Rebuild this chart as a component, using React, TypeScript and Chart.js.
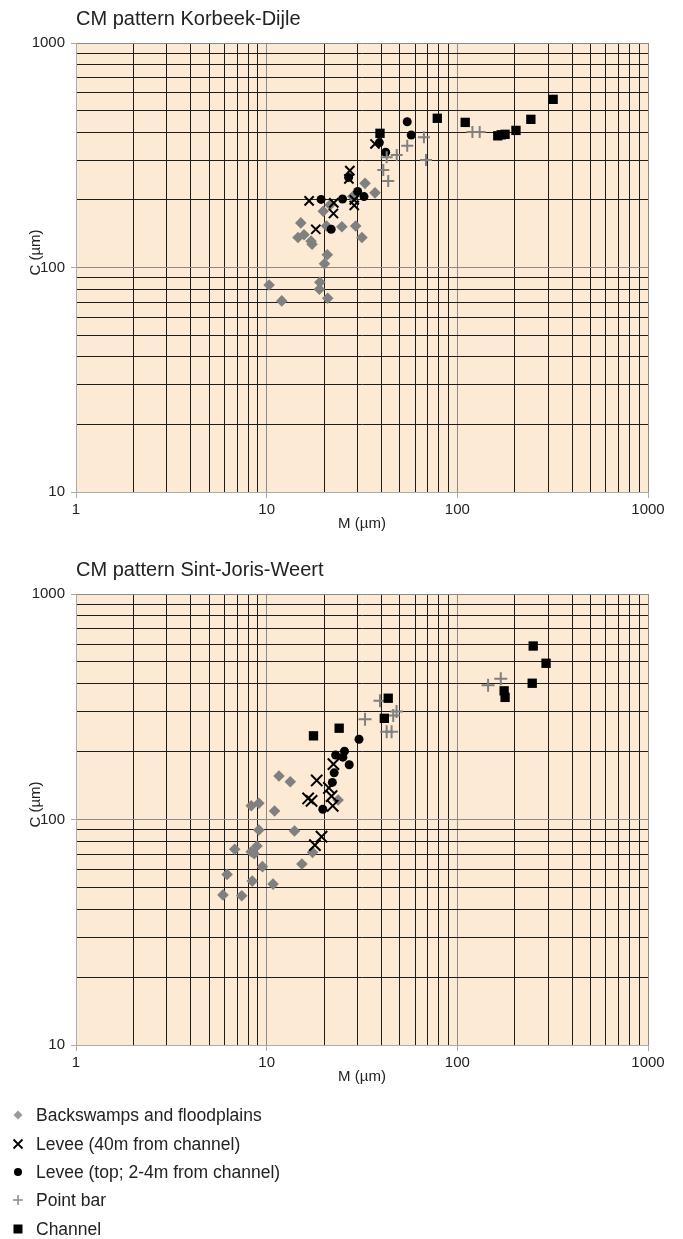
import React, { useEffect, useRef } from 'react';
import { Chart, registerables } from 'chart.js';

Chart.register(...registerables);

// ---- Data: [M (µm), C (µm)] pairs per facies ----

// Korbeek-Dijle
const korbeekBackswamps: [number, number][] = [
  [32.8, 237], [37.0, 215], [19.8, 178], [21.5, 190], [28.3, 207], [15.1, 158],
  [15.7, 140], [14.6, 136], [17.1, 131], [17.3, 127], [20.6, 153], [24.8, 152],
  [29.3, 153], [31.6, 136], [20.8, 114], [20.1, 104], [10.3, 83.6], [12.0, 71],
  [19.0, 86], [18.9, 80], [20.9, 73],
];
const korbeekLevee40m: [number, number][] = [
  [16.7, 198], [22.5, 194], [22.4, 174], [18.1, 148], [27.3, 270], [27.0, 248],
  [28.8, 200], [28.8, 189], [37.0, 355],
];
const korbeekLeveeTop: [number, number][] = [
  [19.3, 201], [25.0, 202], [21.8, 148], [26.9, 252], [30.0, 218], [32.4, 207],
  [39.0, 360], [42.1, 326], [54.6, 446], [57.3, 389],
];
const korbeekPointBar: [number, number][] = [
  [120, 401], [131, 401], [66.8, 380], [54.6, 349], [68.5, 301], [48.1, 317],
  [42.6, 310], [40.9, 272], [43.4, 243],
];
const korbeekChannel: [number, number][] = [
  [39.3, 396], [78.5, 462], [110, 443], [163, 386], [170, 390], [178, 392],
  [203, 408], [243, 457], [318, 561],
];

// Sint-Joris-Weert
const weertBackswamps: [number, number][] = [
  [11.6, 156], [13.3, 147], [8.3, 115], [9.1, 118], [11.0, 109], [23.7, 122],
  [9.1, 89.8], [14.0, 88.9], [6.8, 73.8], [8.9, 76.3], [8.3, 71.9], [8.6, 70.5],
  [17.4, 71.5], [9.5, 61.8], [15.3, 63.5], [6.2, 57.1], [8.4, 53.3], [10.8, 51.7],
  [5.9, 46.3], [7.4, 45.9],
];
const weertLevee40m: [number, number][] = [
  [18.3, 149], [22.4, 176], [21.2, 138], [16.5, 124], [17.2, 121], [21.9, 127],
  [22.2, 115], [19.4, 83.9], [17.9, 77],
];
const weertLeveeTop: [number, number][] = [
  [30.5, 227], [25.6, 201], [23.0, 193], [25.1, 189], [27.1, 175], [22.6, 161],
  [22.1, 146], [19.7, 111],
];
const weertPointBar: [number, number][] = [
  [169, 421], [145, 394], [39.3, 336], [32.8, 278], [48.0, 301], [46.1, 289],
  [42.6, 245], [45.2, 245],
];
const weertChannel: [number, number][] = [
  [17.6, 235], [24.0, 254], [43.4, 345], [41.4, 281], [250, 588], [292, 493],
  [247, 402], [176, 372], [178, 348],
];

const seriesLabels = [
  'Backswamps and floodplains',
  'Levee (40m from channel)',
  'Levee (top; 2-4m from channel)',
  'Point bar',
  'Channel',
];

const xTickValues = [1, 2, 3, 4, 5, 6, 7, 8, 9, 10, 20, 30, 40, 50, 60, 70, 80, 90, 100, 200, 300, 400, 500, 600, 700, 800, 900, 1000];
const yTickValues = [10, 20, 30, 40, 50, 60, 70, 80, 90, 100, 200, 300, 400, 500, 600, 700, 800, 900, 1000];
const decadeLabels = [1, 10, 100, 1000];

// ---- Styling ----
const FONT = '"Liberation Sans", Arial, Helvetica, sans-serif';
const TEXT = '#222222';
const PLOT_BG = '#FDEAD5';
const GRID_MINOR = '#1c1c1c';
const GRID_MAJOR = '#8a8a8a';
const AXIS = '#ababab';
const GREY = '#808080';
const WIDTH = 683;
const PLOT_RIGHT_PAD = 35;
const X_AXIS_H = 40;
const Y_AXIS_W = 76;

const isDecade = (v: number) => decadeLabels.includes(v);

type SiteData = [number, number][][];

const plotFrame = {
  id: 'plotFrame',
  beforeDraw(chart: any) {
    const { ctx, chartArea } = chart;
    ctx.save();
    ctx.fillStyle = PLOT_BG;
    ctx.fillRect(chartArea.left, chartArea.top, chartArea.right - chartArea.left, chartArea.bottom - chartArea.top);
    ctx.restore();
  },
};

function makeTextPlugin(title: string) {
  return {
    id: 'cmTexts',
    afterDraw(chart: any) {
      const { ctx, chartArea } = chart;
      const cx = (chartArea.left + chartArea.right) / 2;
      const cy = (chartArea.top + chartArea.bottom) / 2;
      ctx.save();
      ctx.fillStyle = TEXT;
      ctx.font = `20px ${FONT}`;
      ctx.textAlign = 'left';
      ctx.textBaseline = 'alphabetic';
      ctx.fillText(title, chartArea.left, chartArea.top - 18);

      ctx.font = `15px ${FONT}`;
      ctx.textAlign = 'center';
      ctx.textBaseline = 'middle';
      ctx.fillText('M (µm)', cx, chartArea.bottom + 32);

      ctx.translate(36, cy - 15);
      ctx.rotate(-Math.PI / 2);
      ctx.fillText('C (µm)', 0, 0);
      ctx.restore();
    },
  };
}

const legendPlugin = {
  id: 'cmLegend',
  afterDraw(chart: any) {
    const { ctx } = chart;
    const rowY = [565, 594, 622, 650, 679];
    const mx = 18;
    ctx.save();
    rowY.forEach((y, i) => {
      ctx.beginPath();
      if (i === 0) {
        ctx.fillStyle = '#9a9a9a';
        ctx.moveTo(mx, y - 4.5);
        ctx.lineTo(mx + 4.5, y);
        ctx.lineTo(mx, y + 4.5);
        ctx.lineTo(mx - 4.5, y);
        ctx.closePath();
        ctx.fill();
      } else if (i === 1) {
        ctx.strokeStyle = '#000';
        ctx.lineWidth = 1.8;
        ctx.moveTo(mx - 4.5, y - 4.5);
        ctx.lineTo(mx + 4.5, y + 4.5);
        ctx.moveTo(mx + 4.5, y - 4.5);
        ctx.lineTo(mx - 4.5, y + 4.5);
        ctx.stroke();
      } else if (i === 2) {
        ctx.fillStyle = '#000';
        ctx.arc(mx, y, 4, 0, Math.PI * 2);
        ctx.fill();
      } else if (i === 3) {
        ctx.strokeStyle = '#8a8a8a';
        ctx.lineWidth = 1.5;
        ctx.moveTo(mx - 5, y);
        ctx.lineTo(mx + 5, y);
        ctx.moveTo(mx, y - 5);
        ctx.lineTo(mx, y + 5);
        ctx.stroke();
      } else {
        ctx.fillStyle = '#000';
        ctx.fillRect(mx - 4.5, y - 4.5, 9, 9);
      }
      ctx.fillStyle = TEXT;
      ctx.font = `17.5px ${FONT}`;
      ctx.textAlign = 'left';
      ctx.textBaseline = 'middle';
      ctx.fillText(seriesLabels[i], 36, y + 1);
    });
    ctx.restore();
  },
};

interface CmChartProps {
  title: string;
  data: SiteData;
  height: number;
  plotTop: number;
  plotBottom: number;
  crossRadius: number;
  plusRadius: number;
  withLegend?: boolean;
}

function CmChart({ title, data, height, plotTop, plotBottom, crossRadius, plusRadius, withLegend }: CmChartProps) {
  const ref = useRef<HTMLCanvasElement>(null);

  useEffect(() => {
    const styles = [
      { pointStyle: 'rectRot', radius: 5.8, bg: GREY, border: GREY, bw: 0, order: 5 },
      { pointStyle: 'crossRot', radius: crossRadius, bg: '#000', border: '#000', bw: 2, order: 4 },
      { pointStyle: 'circle', radius: 4.5, bg: '#000', border: '#000', bw: 0, order: 3 },
      { pointStyle: 'cross', radius: plusRadius, bg: GREY, border: GREY, bw: 2, order: 2 },
      { pointStyle: 'rect', radius: 6.6, bg: '#000', border: '#000', bw: 0, order: 1 },
    ];

    const tickScale = (values: number[], isY: boolean) => ({
      type: 'logarithmic' as const,
      min: values[0],
      max: values[values.length - 1],
      afterBuildTicks: (scale: any) => {
        scale.ticks = values.map((v) => ({ value: v }));
      },
      afterFit: (scale: any) => {
        if (isY) scale.width = Y_AXIS_W;
        else scale.height = X_AXIS_H;
      },
      ticks: {
        autoSkip: false,
        maxRotation: 0,
        padding: isY ? 6 : 3,
        color: TEXT,
        font: { family: FONT, size: 15 },
        callback: (v: any) => (isDecade(Number(v)) ? String(v) : ''),
      },
      grid: {
        lineWidth: 1,
        color: (c: any) => (isDecade(c.tick?.value) ? GRID_MAJOR : GRID_MINOR),
        tickColor: (c: any) => (isDecade(c.tick?.value) ? AXIS : 'rgba(0,0,0,0)'),
        tickLength: isY ? 5 : 6,
      },
      border: { display: true, color: AXIS, width: 1 },
    });

    const chart = new Chart(ref.current!, {
      type: 'scatter',
      data: {
        datasets: styles.map((s, i) => ({
          label: seriesLabels[i],
          data: data[i].map(([x, y]) => ({ x, y })),
          pointStyle: s.pointStyle as any,
          pointRadius: s.radius,
          pointHoverRadius: s.radius,
          backgroundColor: s.bg,
          borderColor: s.border,
          pointBorderWidth: s.bw,
          borderWidth: s.bw,
          order: s.order,
        })),
      },
      options: {
        responsive: false,
        animation: false,
        devicePixelRatio: 1,
        events: [],
        layout: {
          padding: { top: plotTop, right: PLOT_RIGHT_PAD, bottom: height - plotBottom - X_AXIS_H, left: 0 },
        },
        plugins: {
          legend: { display: false },
          tooltip: { enabled: false },
          title: { display: false },
        },
        scales: {
          x: tickScale(xTickValues, false) as any,
          y: tickScale(yTickValues, true) as any,
        },
      },
      plugins: withLegend ? [plotFrame, makeTextPlugin(title), legendPlugin] : [plotFrame, makeTextPlugin(title)],
    });
    return () => chart.destroy();
  }, []);

  return <canvas ref={ref} width={WIDTH} height={height} style={{ display: 'block', width: WIDTH, height }} />;
}

export default function App() {
  return (
    <div style={{ position: 'absolute', left: 0, top: 0, width: WIDTH, background: '#fff' }}>
      <CmChart
        title="CM pattern Korbeek-Dijle"
        data={[korbeekBackswamps, korbeekLevee40m, korbeekLeveeTop, korbeekPointBar, korbeekChannel]}
        height={550}
        plotTop={43}
        plotBottom={492}
        crossRadius={6.5}
        plusRadius={6}
      />
      <CmChart
        title="CM pattern Sint-Joris-Weert"
        data={[weertBackswamps, weertLevee40m, weertLeveeTop, weertPointBar, weertChannel]}
        height={689}
        plotTop={44}
        plotBottom={495}
        crossRadius={8}
        plusRadius={6.5}
        withLegend
      />
    </div>
  );
}
